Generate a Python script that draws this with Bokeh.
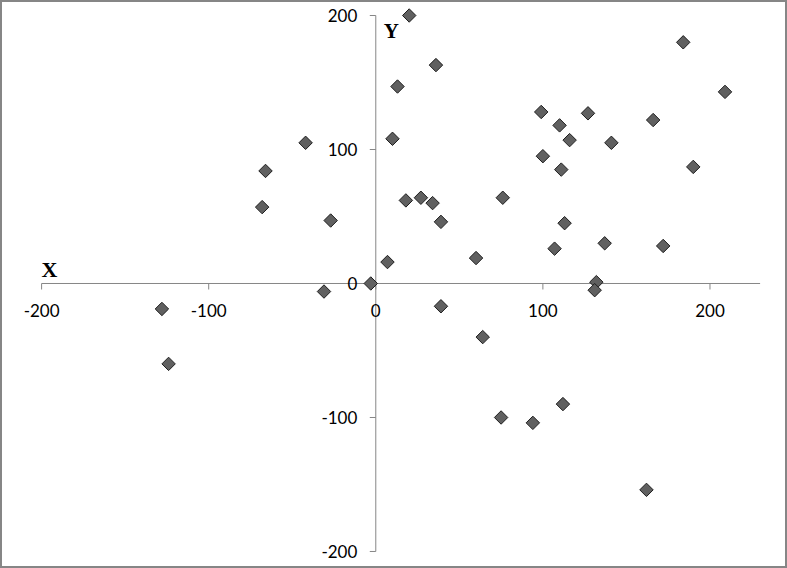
from bokeh.plotting import figure
from bokeh.models import Range1d
from bokeh.embed import file_html
from bokeh.resources import INLINE
from bokeh.core.properties import value

# ---- data ----
x_vals = [20, 13, 36, 10, -42, -66, -68, -27, 7, -3, -31, -128, -124, 18, 27, 34, 39, 60,
          76, 39, 64, 75, 94, 112, 99, 100, 110, 116, 111, 113, 107, 127, 141, 137, 132,
          131, 166, 184, 190, 172, 209, 162]
y_vals = [200, 147, 163, 108, 105, 84, 57, 47, 16, 0, -6, -19, -60, 62, 64, 60, 46, 19,
          64, -17, -40, -100, -104, -90, 128, 95, 118, 107, 85, 45, 26, 127, 105, 30, 1,
          -5, 122, 180, 87, 28, 143, -154]

x_ticks = [-200, -100, 0, 100, 200]
y_ticks = [-200, -100, 0, 100, 200]
x_tick_labels = ["-200", "-100", "0", "100", "200"]
y_tick_labels = ["-200", "-100", "0", "100", "200"]
x_axis_extent = [-200, 230]
y_axis_extent = [-200, 200]
axis_titles = ["X", "Y"]

# ---- layout ----
W, H = 787, 568
XR = (-224.6, 246.4)
YR = (-212.7, 211.2)
px_x = W / (XR[1] - XR[0])   # pixels per x unit
px_y = H / (YR[1] - YR[0])   # pixels per y unit

p = figure(width=W, height=H, x_range=Range1d(*XR), y_range=Range1d(*YR),
           x_axis_type=None, y_axis_type=None, output_backend="svg",
           toolbar_location=None, min_border=0)
p.grid.visible = False
p.outline_line_color = "#868686"
p.outline_line_width = 3
p.background_fill_color = "white"
p.border_fill_color = "white"

axis_color = "#868686"
tick_len = 6

# axis lines crossing at origin
p.segment(x0=[x_axis_extent[0], 0], y0=[0, y_axis_extent[0]],
          x1=[x_axis_extent[1], 0], y1=[0, y_axis_extent[1]],
          line_color=axis_color, line_width=1)
# tick marks
p.segment(x0=x_ticks, y0=[0] * len(x_ticks), x1=x_ticks,
          y1=[-tick_len / px_y] * len(x_ticks), line_color=axis_color, line_width=1)
p.segment(x0=[-tick_len / px_x] * len(y_ticks), y0=y_ticks, x1=[0] * len(y_ticks),
          y1=y_ticks, line_color=axis_color, line_width=1)

font = value("Lato")
fs = "17px"
p.text(x=x_ticks, y=[0] * len(x_ticks), text=x_tick_labels, text_align="center",
       text_baseline="middle", y_offset=27, text_font=font, text_font_size=fs,
       text_color="black")
p.text(x=[0] * len(y_ticks), y=y_ticks, text=y_tick_labels, text_align="right",
       text_baseline="middle", x_offset=-18.5, text_font=font, text_font_size=fs,
       text_color="black")

# axis titles
p.text(x=[x_axis_extent[0]], y=[0], text=[axis_titles[0]], text_align="left",
       text_baseline="alphabetic", y_offset=-14, text_font=value("Liberation Serif"),
       text_font_style="bold", text_font_size="22px", text_color="black")
p.text(x=[0], y=[y_axis_extent[1]], text=[axis_titles[1]], text_align="left",
       text_baseline="alphabetic", x_offset=8, y_offset=15,
       text_font=value("Liberation Serif"), text_font_style="bold",
       text_font_size="21px", text_color="black")

# points
p.scatter(x=x_vals, y=y_vals, marker="square", size=9.5, angle=45, angle_units="deg",
          fill_color="#606060", line_color="#1e1e1e", line_width=1)

open("out.html", "w").write(file_html(p, INLINE))
